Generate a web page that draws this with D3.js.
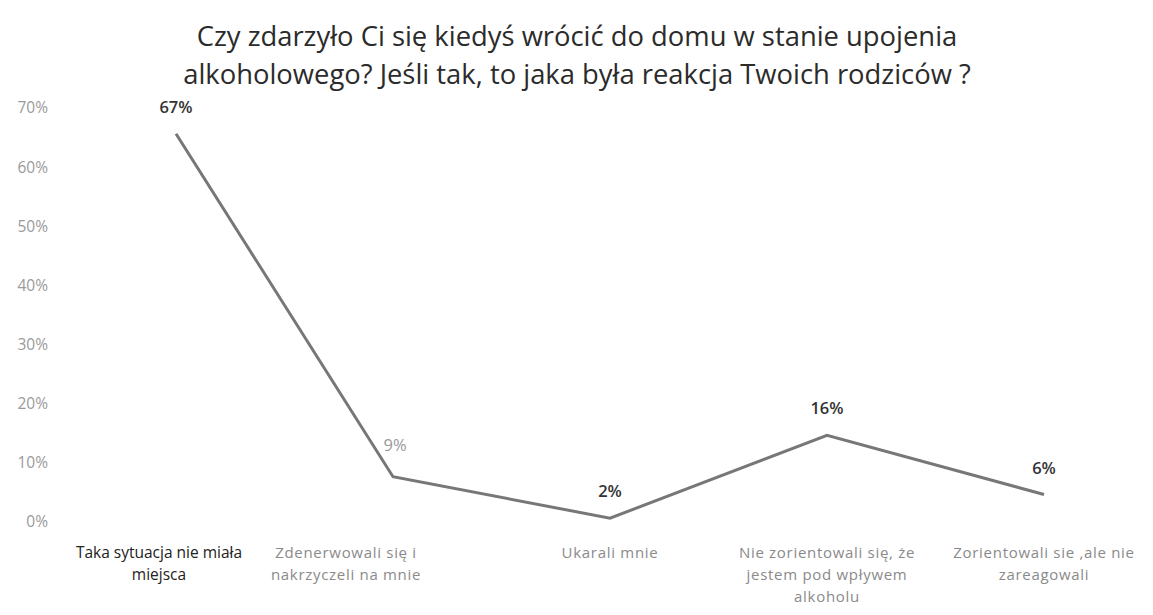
<!DOCTYPE html>
<html><head><meta charset="utf-8">
<script src="https://cdn.jsdelivr.net/npm/d3@7"></script>
<style>body{margin:0;background:#fff}svg{display:block}</style>
</head><body>
<script>
const titleLines = ["Czy zdarzyło Ci się kiedyś wrócić do domu w stanie upojenia",
                    "alkoholowego? Jeśli tak, to jaka była reakcja Twoich rodziców ?"];
const categories = [
  ["Taka sytuacja nie miała", "miejsca"],
  ["Zdenerwowali się i", "nakrzyczeli na mnie"],
  ["Ukarali mnie"],
  ["Nie zorientowali się, że", "jestem pod wpływem", "alkoholu"],
  ["Zorientowali sie ,ale nie", "zareagowali"]
];
const values = [67, 9, 2, 16, 6];
const valueLabels = ["67%", "9%", "2%", "16%", "6%"];
const yTicks = [0, 10, 20, 30, 40, 50, 60, 70];

// layout constants (not data)
const labelShift = [-17, -47, 0, 0, 0];

const W = 1153, H = 615;
const svg = d3.select("body").append("svg").attr("width", W).attr("height", H);
const font = "'Open Sans', sans-serif";

const x = d3.scalePoint().domain(d3.range(categories.length)).range([176, 1044]);
const y = d3.scaleLinear().domain([0, 70]).range([530, 116]);

// title
const tt = svg.append("g").selectAll("text").data(titleLines).join("text")
  .attr("x", 577).attr("y", (d, i) => 46 + i * 38)
  .attr("text-anchor", "middle").attr("font-family", font)
  .attr("font-size", 25).attr("fill", "#2b2b2b").text(d => d);
const w0 = tt.node().getComputedTextLength();
tt.attr("font-size", 25 * 761 / w0);

// y axis (labels only)
const yAxis = d3.axisLeft(y).tickValues(yTicks).tickFormat(d => d + "%").tickSize(0).tickPadding(0);
const ga = svg.append("g").attr("transform", "translate(48,-8)").call(yAxis);
ga.select(".domain").remove();
ga.selectAll("text").attr("font-family", font).attr("font-size", 15.5).attr("fill", "#9a9a9a");

// line
const line = d3.line().x((d, i) => x(i)).y(d => y(d));
svg.append("path").datum(values).attr("d", line)
  .attr("fill", "none").attr("stroke", "#777").attr("stroke-width", 3)
  .attr("stroke-linejoin", "miter");

// value labels
svg.append("g").selectAll("text").data(values).join("text")
  .attr("x", (d, i) => x(i) + (i === 1 ? 2 : 0)).attr("y", (d, i) => y(d) - (i === 1 ? 26 : 21))
  .attr("text-anchor", "middle").attr("font-family", font)
  .attr("font-size", 16.5).attr("font-weight", (d, i) => i === 1 ? "normal" : 600)
  .attr("fill", (d, i) => i === 1 ? "#999" : "#333")
  .text((d, i) => valueLabels[i]);

// category labels
const cg = svg.append("g").selectAll("g").data(categories).join("g")
  .attr("transform", (d, i) => `translate(${x(i) + labelShift[i]},0)`);
cg.each(function(lines, i) {
  d3.select(this).selectAll("text").data(lines).join("text")
    .attr("x", 0).attr("y", (d, j) => 558 + j * 22)
    .attr("text-anchor", "middle").attr("font-family", font)
    .attr("font-size", i === 0 ? 15.5 : 15).attr("letter-spacing", i === 0 ? 0 : 0.7)
    .attr("fill", i === 0 ? "#222" : "#8a8a8a").text(d => d);
});
</script>
</body></html>
